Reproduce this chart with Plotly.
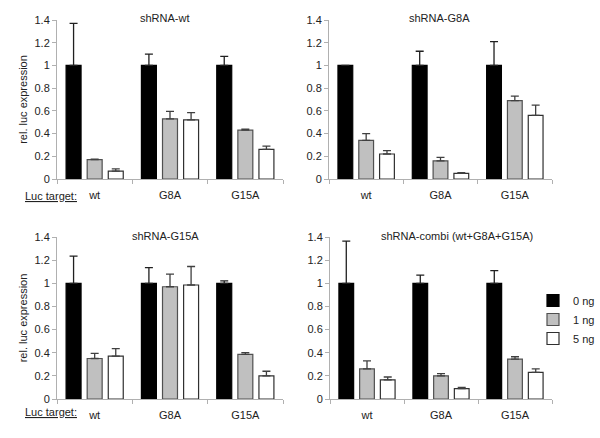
import plotly.graph_objects as go

categories = ["wt", "G8A", "G15A"]
series_names = ["0 ng", "1 ng", "5 ng"]
panel_titles = ["shRNA-wt", "shRNA-G8A", "shRNA-G15A", "shRNA-combi (wt+G8A+G15A)"]

# values [panel][series][category]
values = [
    [[1.0, 1.0, 1.0], [0.17, 0.53, 0.43], [0.07, 0.52, 0.26]],
    [[1.0, 1.0, 1.0], [0.34, 0.16, 0.69], [0.22, 0.05, 0.56]],
    [[1.0, 1.0, 1.0], [0.35, 0.97, 0.385], [0.37, 0.985, 0.20]],
    [[1.0, 1.0, 1.0], [0.26, 0.20, 0.345], [0.165, 0.09, 0.23]],
]
# upper error (plus only)
errors = [
    [[0.37, 0.10, 0.08], [0.005, 0.065, 0.01], [0.02, 0.065, 0.03]],
    [[0.0, 0.125, 0.21], [0.06, 0.03, 0.04], [0.03, 0.005, 0.09]],
    [[0.235, 0.135, 0.02], [0.045, 0.11, 0.015], [0.065, 0.16, 0.04]],
    [[0.365, 0.07, 0.11], [0.07, 0.02, 0.02], [0.025, 0.01, 0.03]],
]

fills = ["#000000", "#c0c0c0", "#ffffff"]
outlines = ["#000000", "#505050", "#303030"]

W, H = 600, 438
# pixel geometry of panels: (x0, x1, ytop(1.4), ybottom(0))
panels_px = [(57, 283, 20, 179), (329, 552, 20, 179),
             (57, 283, 237, 399), (330, 552, 237, 399)]

fig = go.Figure()
layout = {}
for p in range(4):
    x0, x1, yt, yb = panels_px[p]
    sfx = "" if p == 0 else str(p + 1)
    xa = "x" + sfx
    ya = "y" + sfx
    for s in range(3):
        fig.add_trace(go.Bar(
            x=categories, y=values[p][s], name=series_names[s],
            xaxis=xa, yaxis=ya, showlegend=(p == 3),
            marker=dict(color=fills[s], line=dict(color=outlines[s], width=1.2)),
            error_y=dict(type="data", symmetric=False, array=errors[p][s],
                         arrayminus=[0, 0, 0], color="#202020" if s == 0 else "#404040",
                         thickness=1.3, width=4),
        ))
    layout["xaxis" + sfx] = dict(
        domain=[x0 / W, x1 / W], anchor=ya, showline=True, linecolor="#b0b0b0",
        linewidth=1, ticks="outside", tickson="boundaries", ticklen=4,
        tickcolor="#b0b0b0", tickfont=dict(size=11, color="#222"), showgrid=False,
        fixedrange=True, automargin=False, ticklabelstandoff=6,
    )
    layout["yaxis" + sfx] = dict(
        domain=[1 - yb / H, 1 - yt / H], anchor=xa, range=[0, 1.4], dtick=0.2,
        showline=True, linecolor="#b0b0b0", linewidth=1, ticks="outside",
        ticklen=4, tickcolor="#b0b0b0", tickfont=dict(size=11, color="#222"),
        showgrid=False, zeroline=False, tickformat="~g", automargin=False,
        title=dict(text="rel. luc expression" if p in (0, 2) else "",
                   font=dict(size=11, color="#222"), standoff=4),
    )

annotations = []
title_pos = [(165, 18), (440, 18), (165, 236), (457, 236)]
for p in range(4):
    tx, ty = title_pos[p]
    annotations.append(dict(text=panel_titles[p], x=tx / W, y=1 - ty / H,
                            xref="paper", yref="paper", showarrow=False,
                            font=dict(size=11, color="#222"),
                            xanchor="center", yanchor="middle"))
for ty in (196, 412):
    annotations.append(dict(text="<u>Luc target:</u>", x=51 / W, y=1 - ty / H,
                            xref="paper", yref="paper", showarrow=False,
                            font=dict(size=11, color="#222"),
                            xanchor="center", yanchor="middle"))

fig.update_layout(
    width=W, height=H, margin=dict(l=0, r=0, t=0, b=0, autoexpand=False),
    paper_bgcolor="white", plot_bgcolor="white",
    font=dict(family="Liberation Sans, Arial, sans-serif", size=11, color="#222"),
    barmode="group", bargap=0.16, bargroupgap=0.29,
    legend=dict(x=1.0, y=1 - 286 / H, xanchor="right", yanchor="top",
                font=dict(size=11), itemwidth=30, tracegroupgap=0,
                bgcolor="rgba(0,0,0,0)"),
    annotations=annotations,
    **layout,
)

fig.write_html("out.html", config={"displayModeBar": False},
               post_script="document.body.style.margin='0';document.body.style.padding='0';")
